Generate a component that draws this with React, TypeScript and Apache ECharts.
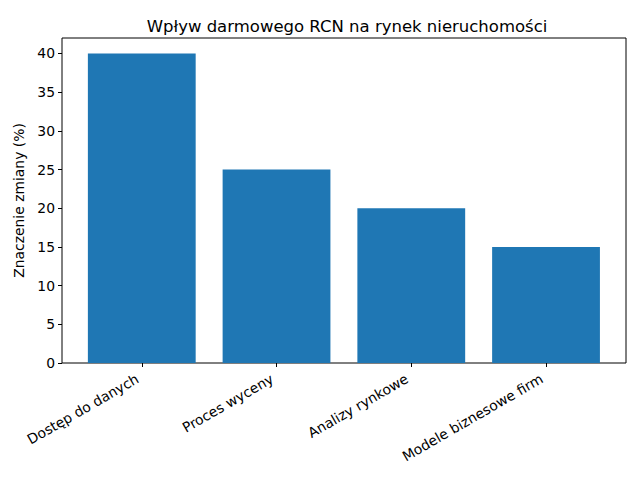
import React, { useEffect, useRef } from "react";
import * as echarts from "echarts";

const categories = ["Dostęp do danych", "Proces wyceny", "Analizy rynkowe", "Modele biznesowe firm"];
const values = [40, 25, 20, 15];
const yTicks = [0, 5, 10, 15, 20, 25, 30, 35, 40];

const font = "DejaVu Sans";

const App: React.FC = () => {
  const chartRef = useRef<HTMLDivElement>(null);

  useEffect(() => {
    if (!chartRef.current) return;
    const chart = echarts.init(chartRef.current, undefined, { renderer: "svg" });

    const option: any = {
      animation: false,
      backgroundColor: "#ffffff",
      title: {
        text: "Wpływ darmowego RCN na rynek nieruchomości",
        left: 342,
        top: 13,
        textAlign: "center",
        textStyle: { fontFamily: font, fontSize: 16.5, fontWeight: "normal", color: "#000" },
      },
      grid: [
        // frame
        {
          left: 62,
          top: 38,
          width: 564,
          height: 325,
          show: true,
          borderColor: "#000",
          borderWidth: 1,
          backgroundColor: "transparent",
        },
        // data area
        { left: 74.4, top: 38, width: 539, height: 325 },
      ],
      xAxis: [
        { type: "value", gridIndex: 0, show: false, min: 0, max: 1 },
        {
          type: "category",
          gridIndex: 1,
          data: categories,
          axisLine: { show: false },
          axisTick: { show: true, alignWithLabel: true, length: 4, lineStyle: { color: "#000" } },
          axisLabel: {
            rotate: 30,
            margin: 12,
            padding: [0, 5, 0, 0],
            fontFamily: font,
            fontSize: 13.9,
            color: "#000",
            interval: 0,
          },
        },
      ],
      yAxis: [
        {
          type: "value",
          gridIndex: 0,
          min: 0,
          max: 42,
          interval: 5,
          name: "Znaczenie zmiany (%)",
          nameLocation: "middle",
          nameGap: 35,
          nameTextStyle: { fontFamily: font, fontSize: 13.9, color: "#000" },
          axisLine: { show: false },
          splitLine: { show: false },
          axisTick: {
            show: true,
            length: 4,
            lineStyle: { color: "#000" },
            customValues: yTicks,
          },
          axisLabel: {
            fontFamily: font,
            fontSize: 13.9,
            color: "#000",
            margin: 7,
            customValues: yTicks,
          },
        },
        { type: "value", gridIndex: 1, show: false, min: 0, max: 42 },
      ],
      series: [
        {
          type: "bar",
          xAxisIndex: 1,
          yAxisIndex: 1,
          data: values,
          barWidth: "80%",
          itemStyle: { color: "#1f77b4" },
        },
      ],
    };

    chart.setOption(option);
    return () => {
      chart.dispose();
    };
  }, []);

  return <div ref={chartRef} style={{ width: 640, height: 480, margin: -8 }} />;
};

export default App;
